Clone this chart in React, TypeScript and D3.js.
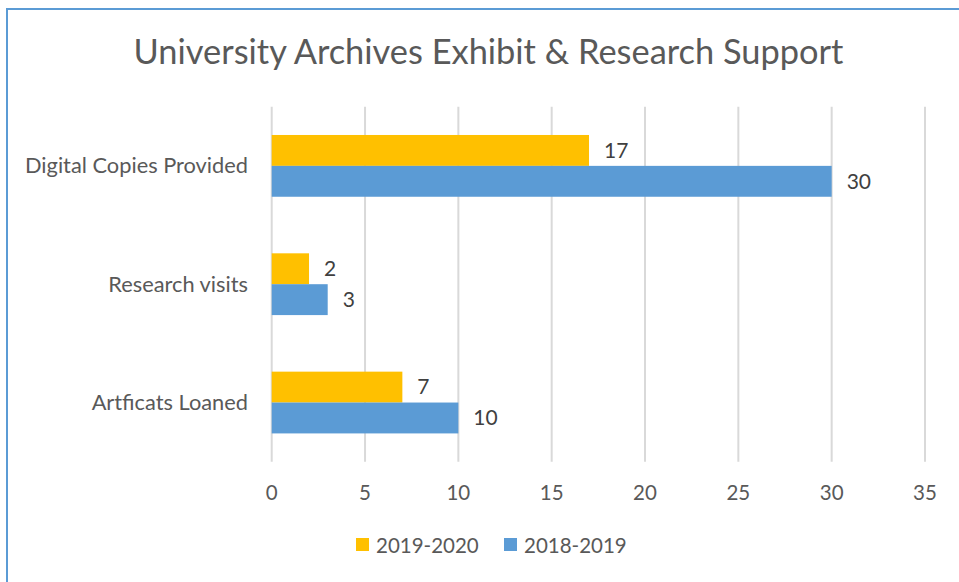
import React from "react";
import * as d3 from "d3";

const categories = ["Digital Copies Provided", "Research visits", "Artficats Loaned"];
const seriesNames = ["2019-2020", "2018-2019"];
const values2019_2020 = [17, 2, 7];
const values2018_2019 = [30, 3, 10];
const xTicks = [0, 5, 10, 15, 20, 25, 30, 35];
const colors = ["#FFC000", "#5B9BD5"];

const W = 959;
const H = 582;
const FONT = "Lato, 'Open Sans', sans-serif";

export default function App() {
  const x = d3.scaleLinear().domain([0, 35]).range([271.7, 925]);
  const y = d3
    .scaleBand<string>()
    .domain(categories)
    .range([106.7, 461.7])
    .paddingInner(0.478)
    .paddingOuter(0.239);
  const bw = y.bandwidth() / 2;
  const series = [values2019_2020, values2018_2019];

  return (
    <>
      <style>{"body{margin:0;}"}</style>
      <svg width={W} height={H} style={{ display: "block", background: "#fff" }}>
        <rect x={0} y={0} width={W} height={H} fill="#fff" />
        <rect x={7} y={9} width={1000} height={1000} fill="none" stroke="#5B9BD5" strokeWidth={2} />
        <text
          x={488.5}
          y={64}
          textAnchor="middle"
          fontFamily={FONT}
          fontSize={34.4}
          fill="#595959"
        >
          University Archives Exhibit &amp; Research Support
        </text>
        {xTicks.map((t) => (
          <g key={t}>
            <line x1={x(t)} x2={x(t)} y1={106.7} y2={461.7} stroke="#D9D9D9" strokeWidth={2} />
            <text
              x={x(t)}
              y={499.5}
              textAnchor="middle"
              fontFamily={FONT}
              fontSize={20.5}
              fill="#595959"
            >
              {t}
            </text>
          </g>
        ))}
        {categories.map((c) => (
          <text
            key={c}
            x={248}
            y={(y(c) as number) + y.bandwidth() / 2 + 7.6}
            textAnchor="end"
            fontFamily={FONT}
            fontSize={21.8}
            fill="#595959"
          >
            {c}
          </text>
        ))}
        {series.map((vals, si) =>
          categories.map((c, ci) => {
            const top = (y(c) as number) + si * bw;
            return (
              <g key={c + si}>
                <rect x={x(0)} y={top} width={x(vals[ci]) - x(0)} height={bw} fill={colors[si]} />
                <text
                  x={x(vals[ci]) + 15}
                  y={top + bw / 2 + 7.4}
                  fontFamily={FONT}
                  fontSize={21}
                  fill="#404040"
                >
                  {vals[ci]}
                </text>
              </g>
            );
          })
        )}
        {seriesNames.map((s, i) => {
          const lx = i === 0 ? 356 : 504;
          return (
            <g key={s}>
              <rect x={lx} y={538} width={13} height={13} fill={colors[i]} />
              <text x={lx + 20} y={552.5} fontFamily={FONT} fontSize={20.5} fill="#595959">
                {s}
              </text>
            </g>
          );
        })}
      </svg>
    </>
  );
}
